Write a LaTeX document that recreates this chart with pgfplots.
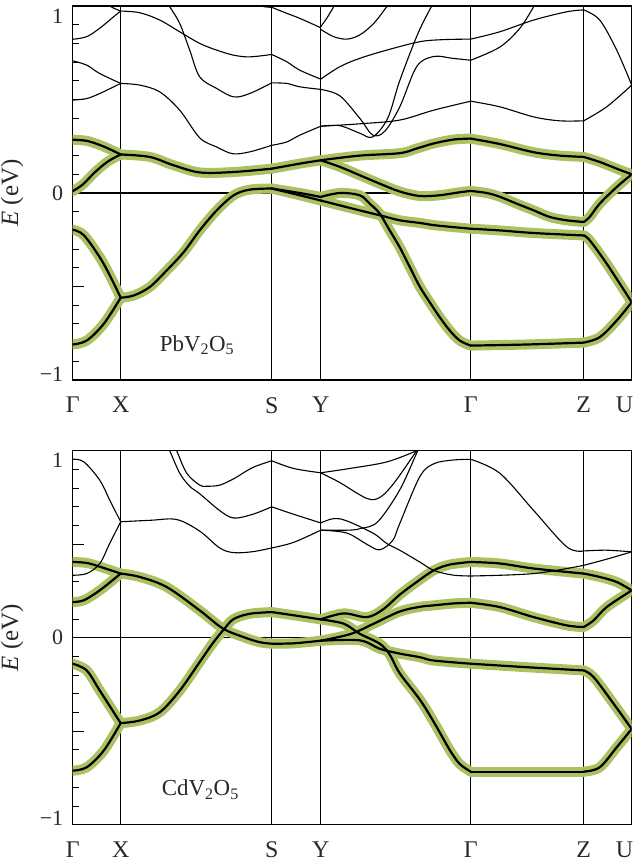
\documentclass[border=0pt]{standalone}
\usepackage{pgfplots}
\pgfplotsset{compat=1.18}
\usepackage{fontspec}
\setmainfont{Liberation Serif}
\definecolor{bandgreen}{RGB}{172,193,98}
\definecolor{txt}{RGB}{40,40,40}
\tikzset{
 gb/.style={bandgreen, line width=10bp, line cap=round, line join=round, smooth, tension=0.55},
 bb/.style={black, line width=2.2bp, line cap=round, line join=round, smooth, tension=0.55},
 tb/.style={black, line width=1.1bp, smooth, tension=0.55},
}
\pgfplotsset{
 bandaxis/.style={
  scale only axis, width=559bp, height=374bp,
  xmin=0, xmax=559, ymin=-1, ymax=1,
  xtick={0,48,199,248,398,511,559},
  xticklabels={Γ,X,S,Y,Γ,Z,{\makebox[0pt][r]{U\kern-1.5bp}}},
  xmajorgrids, major grid style={black, line width=1.1bp},
  xtick style={draw=none},
  ytick={-1,-0.5,0,0.5,1},
  yticklabels={{\raisebox{6bp}[\height][\depth]{−1}},{},0,{},{\raisebox{-10bp}[\height][\depth]{1}}},
  minor y tick num=4,
  ytick pos=left,
  tick align=inside,
  ytick style={black, line width=0.9bp},
  major tick length=11bp, minor tick length=6bp,
  axis line style={black, line width=1.3bp},
  yticklabel style={font=\fontsize{22}{22}\selectfont, text=txt, xshift=-6bp},
  xticklabel style={font=\fontsize{24}{24}\selectfont, text=txt, anchor=north, inner sep=0pt, yshift=-17bp},
  every axis y label/.style={at={(axis description cs:-0.0818,0.5)}, rotate=90, anchor=south, text=txt},
  ylabel={\fontsize{25}{25}\selectfont\textit{E} (eV)},
 }
}
\newcommand\topgreen[1]{%
\addplot[#1] coordinates {(0,0.285)(14,0.279)(27,0.257)(38,0.232)(48,0.206)};
\addplot[#1] coordinates {(0,0.01)(10,0.045)(22,0.11)(35,0.168)(48,0.206)};
\addplot[#1] coordinates {(0,-0.196)(11,-0.225)(27,-0.343)(38,-0.45)(48,-0.56)};
\addplot[#1] coordinates {(0,-0.81)(14,-0.789)(31,-0.70)(48,-0.56)};
\addplot[#1] coordinates {(48,0.206)(77,0.193)(100,0.15)(127,0.11)(160,0.112)(199,0.13)};
\addplot[#1] coordinates {(48,-0.56)(61,-0.548)(77,-0.503)(94,-0.414)(111,-0.316)(127,-0.2)(144,-0.093)(161,-0.012)(177,0.018)(199,0.024)};
\addplot[#1] coordinates {(199,0.13)(227,0.157)(248,0.175)};
\addplot[#1] coordinates {(199,0.024)(227,0.0)(248,-0.021)};
\addplot[#1] coordinates {(199,0.024)(227,-0.012)(248,-0.04)};
\addplot[#1] coordinates {(248,0.175)(287,0.20)(327,0.213)(344,0.238)(361,0.265)(381,0.286)(398,0.291)};
\addplot[#1] coordinates {(248,0.175)(267,0.14)(287,0.095)(307,0.05)(327,0.008)(347,-0.016)(367,-0.012)(387,0.004)(398,0.011)};
\addplot[#1] coordinates {(248,-0.021)(267,0.0)(287,-0.012)(297,-0.057)(307,-0.11)(317,-0.2)(327,-0.29)(337,-0.395)(347,-0.5)(357,-0.584)(367,-0.664)(377,-0.735)(387,-0.789)(398,-0.816)};
\addplot[#1] coordinates {(248,-0.04)(267,-0.066)(287,-0.093)(307,-0.119)(327,-0.146)(347,-0.16)(363,-0.173)(398,-0.191)};
\addplot[#1] coordinates {(398,0.291)(427,0.262)(461,0.218)(487,0.2)(511,0.193)};
\addplot[#1] coordinates {(398,0.011)(414,0.0)(427,-0.02)(444,-0.057)(461,-0.093)(477,-0.128)(494,-0.146)(511,-0.155)};
\addplot[#1] coordinates {(398,-0.191)(427,-0.2)(461,-0.214)(511,-0.227)};
\addplot[#1] coordinates {(398,-0.816)(455,-0.81)(511,-0.80)};
\addplot[#1] coordinates {(511,0.193)(527,0.166)(544,0.13)(559,0.1)};
\addplot[#1] coordinates {(511,-0.155)(517,-0.128)(527,-0.057)(544,0.032)(559,0.1)};
\addplot[#1] coordinates {(511,-0.227)(517,-0.253)(534,-0.378)(559,-0.584)};
\addplot[#1] coordinates {(511,-0.80)(527,-0.771)(544,-0.682)(559,-0.584)};
}
\newcommand\botgreen[1]{%
\addplot[#1] coordinates {(0,0.405)(14,0.40)(27,0.38)(48,0.343)};
\addplot[#1] coordinates {(0,0.191)(11,0.2)(27,0.253)(48,0.343)};
\addplot[#1] coordinates {(0,-0.139)(14,-0.175)(27,-0.282)(48,-0.457)};
\addplot[#1] coordinates {(0,-0.711)(14,-0.693)(31,-0.604)(48,-0.457)};
\addplot[#1] coordinates {(48,0.343)(67,0.325)(94,0.271)(127,0.146)(150,0.05)(171,0.003)(187,-0.024)(199,-0.032)};
\addplot[#1] coordinates {(48,-0.457)(67,-0.443)(87,-0.399)(107,-0.283)(127,-0.13)(140,-0.03)(152,0.05)(161,0.1)(177,0.128)(199,0.137)};
\addplot[#1] coordinates {(199,0.137)(221,0.12)(248,0.098)};
\addplot[#1] coordinates {(199,-0.032)(221,-0.03)(248,-0.016)};
\addplot[#1] coordinates {(248,0.098)(271,0.13)(294,0.11)(310,0.15)(327,0.23)(344,0.298)(361,0.36)(377,0.391)(398,0.405)};
\addplot[#1] coordinates {(248,0.098)(271,0.075)(287,0.021)(307,-0.032)(317,-0.09)(327,-0.19)(347,-0.33)(361,-0.45)(377,-0.6)(387,-0.675)(398,-0.716)};
\addplot[#1] coordinates {(248,-0.016)(278,0.02)(301,0.075)(327,0.14)(347,0.165)(361,0.173)(380,0.183)(398,0.187)};
\addplot[#1] coordinates {(248,-0.016)(287,-0.014)(307,-0.059)(327,-0.085)(347,-0.104)(361,-0.122)(398,-0.139)};
\addplot[#1] coordinates {(398,0.405)(427,0.397)(461,0.37)(511,0.343)};
\addplot[#1] coordinates {(398,0.187)(427,0.164)(461,0.11)(494,0.066)(511,0.057)};
\addplot[#1] coordinates {(398,-0.139)(455,-0.158)(511,-0.175)};
\addplot[#1] coordinates {(398,-0.716)(511,-0.716)};
\addplot[#1] coordinates {(511,0.343)(527,0.325)(544,0.298)(559,0.253)};
\addplot[#1] coordinates {(511,0.057)(521,0.093)(534,0.164)(559,0.253)};
\addplot[#1] coordinates {(511,-0.175)(521,-0.211)(541,-0.354)(559,-0.488)};
\addplot[#1] coordinates {(511,-0.716)(527,-0.693)(544,-0.586)(559,-0.488)};
}
\begin{document}
\begin{tikzpicture}[x=1bp,y=1bp]
\path[use as bounding box] (0,0) rectangle (637,-865);
\begin{axis}[bandaxis, at={(72.7bp,-6bp)}, anchor=north west]
\addplot[black, line width=1.1bp] coordinates {(0,0)(559,0)};
\topgreen{gb}
\topgreen{bb}
% thin bands
\addplot[tb] coordinates {(0,0.822)(14,0.836)(27,0.881)(41,0.943)(48,0.973)};
\addplot[tb] coordinates {(22,1.1)(30,1.04)(37,1.0)(48,0.973)};
\addplot[tb] coordinates {(0,0.707)(14,0.684)(27,0.639)(48,0.586)};
\addplot[tb] coordinates {(0,0.497)(14,0.505)(27,0.532)(48,0.586)};
\addplot[tb] coordinates {(48,0.973)(67,0.964)(87,0.925)(107,0.862)(127,0.80)(144,0.764)(161,0.737)(177,0.728)(199,0.741)};
\addplot[tb] coordinates {(48,0.586)(67,0.577)(87,0.541)(107,0.443)(127,0.295)(144,0.246)(160,0.21)(177,0.22)(199,0.255)};
\addplot[tb] coordinates {(90,1.05)(97,0.996)(107,0.907)(117,0.764)(127,0.621)(144,0.559)(161,0.514)(177,0.532)(199,0.589)};
\addplot[tb] coordinates {(178,1.03)(188,1.0)(199,0.993)};
\addplot[tb] coordinates {(199,0.993)(214,0.961)(227,0.934)(248,0.884)};
\addplot[tb] coordinates {(199,0.741)(214,0.702)(227,0.657)(248,0.609)};
\addplot[tb] coordinates {(199,0.589)(214,0.586)(227,0.568)(248,0.554)};
\addplot[tb] coordinates {(199,0.255)(214,0.273)(227,0.309)(248,0.357)};
\addplot[tb] coordinates {(248,0.889)(254,0.934)(261,0.996)(265,1.03)};
\addplot[tb] coordinates {(248,0.875)(261,0.836)(274,0.823)(287,0.845)(301,0.907)(314,0.996)(318,1.03)};
\addplot[tb] coordinates {(248,0.609)(267,0.675)(287,0.72)(314,0.764)(347,0.809)(370,0.82)(398,0.823)};
\addplot[tb] coordinates {(248,0.554)(267,0.52)(287,0.40)(300,0.31)(312,0.33)(327,0.46)(344,0.676)(361,0.73)(380,0.72)(398,0.71)};
\addplot[tb] coordinates {(248,0.357)(267,0.36)(287,0.32)(300,0.30)(315,0.40)(327,0.60)(345,0.85)(359,1.0)(365,1.05)};
\addplot[tb] coordinates {(248,0.357)(287,0.37)(327,0.39)(361,0.443)(398,0.491)};
\addplot[tb] coordinates {(398,0.823)(427,0.862)(461,0.925)(494,0.969)(511,0.979)};
\addplot[tb] coordinates {(511,0.979)(527,0.925)(544,0.764)(559,0.577)};
\addplot[tb] coordinates {(398,0.71)(427,0.78)(447,0.88)(461,0.996)(465,1.03)};
\addplot[tb] coordinates {(398,0.491)(427,0.461)(461,0.407)(487,0.386)(511,0.386)};
\addplot[tb] coordinates {(511,0.386)(534,0.461)(559,0.577)};
\node[anchor=base west, font=\fontsize{23}{23}\selectfont, text=txt, inner sep=0pt] at (axis cs:87,-0.846) {PbV\textsubscript{2}O\textsubscript{5}};
\end{axis}
\begin{axis}[bandaxis, at={(72.7bp,-450.7bp)}, anchor=north west]
\addplot[black, line width=1.1bp] coordinates {(0,0)(559,0)};
\botgreen{gb}
\botgreen{bb}
\addplot[tb] coordinates {(0,0.954)(11,0.941)(27,0.843)(37,0.736)(48,0.62)};
\addplot[tb] coordinates {(0,0.334)(14,0.343)(27,0.396)(37,0.504)(48,0.62)};
\addplot[tb] coordinates {(48,0.62)(78,0.628)(104,0.632)(127,0.57)(147,0.48)(161,0.455)(180,0.46)(199,0.48)};
\addplot[tb] coordinates {(92,1.05)(97,1.0)(107,0.88)(117,0.81)(127,0.77)(147,0.68)(161,0.64)(180,0.66)(199,0.70)};
\addplot[tb] coordinates {(100,1.05)(104,1.0)(114,0.88)(127,0.816)(134,0.81)(147,0.816)(161,0.85)(180,0.91)(199,0.946)};
\addplot[tb] coordinates {(199,0.48)(221,0.51)(248,0.575)};
\addplot[tb] coordinates {(199,0.70)(221,0.66)(248,0.614)};
\addplot[tb] coordinates {(199,0.946)(221,0.905)(248,0.882)};
\addplot[tb] coordinates {(248,0.882)(277,0.905)(314,0.94)(344,1.0)(350,1.02)};
\addplot[tb] coordinates {(248,0.882)(267,0.83)(294,0.745)(307,0.75)(321,0.825)(344,1.0)(348,1.03)};
\addplot[tb] coordinates {(248,0.614)(261,0.637)(274,0.625)(301,0.557)(314,0.504)(327,0.468)(347,0.405)(361,0.36)(380,0.335)(398,0.33)};
\addplot[tb] coordinates {(248,0.575)(275,0.575)(288,0.584)(305,0.62)(327,0.79)(345,1.0)(348,1.03)};
\addplot[tb] coordinates {(248,0.575)(274,0.56)(294,0.50)(307,0.47)(320,0.52)(327,0.61)(347,0.86)(361,0.93)(380,0.95)(398,0.954)};
\addplot[tb] coordinates {(398,0.954)(427,0.88)(461,0.68)(494,0.486)(511,0.464)};
\addplot[tb] coordinates {(511,0.464)(534,0.468)(559,0.459)};
\addplot[tb] coordinates {(398,0.33)(461,0.343)(511,0.387)};
\addplot[tb] coordinates {(511,0.387)(534,0.42)(559,0.459)};
\node[anchor=base west, font=\fontsize{23}{23}\selectfont, text=txt, inner sep=0pt] at (axis cs:89,-0.845) {CdV\textsubscript{2}O\textsubscript{5}};
\end{axis}
\end{tikzpicture}
\end{document}
